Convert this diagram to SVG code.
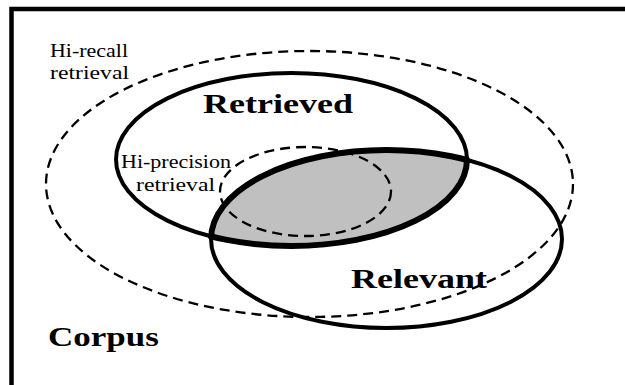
<svg xmlns="http://www.w3.org/2000/svg" width="625" height="385" viewBox="0 0 625 385">
<style>
.serif{font-family:"Liberation Serif","Times New Roman",serif;fill:#000}
.small{font-size:19px}
.big{font-size:28px;font-weight:bold}
.dash{fill:none;stroke:#000;stroke-width:2.3;stroke-dasharray:10 6}
.solid{fill:none;stroke:#000;stroke-width:4}
.thick{fill:none;stroke:#000;stroke-width:6}
</style>
<defs>
<clipPath id="inRetrieved"><ellipse cx="291.5" cy="159.5" rx="178" ry="89"/></clipPath>
<clipPath id="inRelevant"><ellipse cx="386.5" cy="239" rx="178" ry="91"/></clipPath>
<clipPath id="inRetrievedFill"><ellipse cx="291.5" cy="159.5" rx="175.5" ry="86.5"/></clipPath>
</defs>
<rect x="0" y="0" width="625" height="385" fill="#fff"/>
<g id="corpus">
<path d="M11.5 385 V9 H625" fill="none" stroke="#000" stroke-width="4.5"/>
<text class="serif big" x="48" y="346" textLength="111" lengthAdjust="spacingAndGlyphs">Corpus</text>
</g>
<g id="hi-recall">
<ellipse class="dash" cx="309.5" cy="184" rx="263.5" ry="133"/>
<text class="serif small" x="50" y="57" textLength="78" lengthAdjust="spacingAndGlyphs">Hi-recall</text>
<text class="serif small" x="50" y="79" textLength="79" lengthAdjust="spacingAndGlyphs">retrieval</text>
</g>
<g id="intersection-fill">
<ellipse cx="386.5" cy="239" rx="175.5" ry="89" fill="#c0c0c0" clip-path="url(#inRetrievedFill)"/>
</g>
<g id="retrieved">
<ellipse class="solid" cx="291.5" cy="159.5" rx="175.5" ry="86.5"/>
<text class="serif big" x="203" y="113" textLength="150" lengthAdjust="spacingAndGlyphs">Retrieved</text>
</g>
<g id="relevant">
<ellipse class="solid" cx="386.5" cy="239" rx="175.5" ry="89"/>
<text class="serif big" x="351" y="288" textLength="136" lengthAdjust="spacingAndGlyphs">Relevant</text>
</g>
<g id="hi-precision">
<ellipse class="dash" cx="305.5" cy="191.5" rx="85.5" ry="44.5"/>
<text class="serif small" x="121" y="168" textLength="110" lengthAdjust="spacingAndGlyphs">Hi-precision</text>
<text class="serif small" x="136" y="191" textLength="79" lengthAdjust="spacingAndGlyphs">retrieval</text>
</g>
<g id="intersection">
<ellipse class="thick" cx="386.5" cy="239" rx="175.5" ry="89" clip-path="url(#inRetrieved)"/>
<ellipse class="thick" cx="291.5" cy="159.5" rx="175.5" ry="86.5" clip-path="url(#inRelevant)"/>
</g>
</svg>
